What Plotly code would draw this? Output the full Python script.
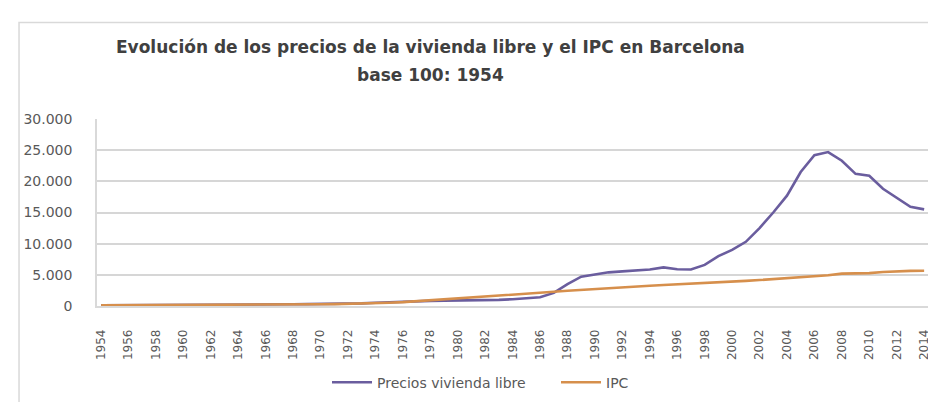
import plotly.graph_objects as go

years = [str(y) for y in range(1954, 2015)]
tick_labels = [str(y) for y in range(1954, 2015, 2)]

precios = [100, 105, 110, 120, 130, 140, 150, 160, 175, 190,
           210, 230, 250, 265, 280, 295, 310, 330, 360, 420,
           520, 620, 700, 760, 820, 870, 910, 940, 880, 990,
           1090, 1250, 1400, 2100, 3500, 4700, 5100, 5400, 5550, 5700,
           5850, 6200, 5900, 5850, 6600, 8000, 9000, 10300, 12500, 15000,
           17700, 21500, 24200, 24700, 23300, 21200, 20900, 18800, 17300, 15900,
           15500]

ipc = [100, 105, 115, 125, 140, 150, 152, 155, 165, 180,
       195, 215, 230, 245, 255, 265, 285, 305, 335, 380,
       450, 530, 620, 760, 900, 1050, 1200, 1350, 1500, 1650,
       1800, 1950, 2100, 2280, 2450, 2600, 2750, 2880, 3020, 3130,
       3250, 3380, 3480, 3560, 3650, 3760, 3890, 4030, 4170, 4300,
       4430, 4580, 4750, 4920, 5200, 5190, 5280, 5450, 5580, 5640,
       5650]

y_ticks = [0, 5000, 10000, 15000, 20000, 25000, 30000]

FONT = "DejaVu Sans"

fig = go.Figure()
fig.add_trace(go.Scatter(x=years, y=precios, mode="lines", name="Precios vivienda libre",
                         line=dict(color="#6a5d9e", width=2.6)))
fig.add_trace(go.Scatter(x=years, y=ipc, mode="lines", name="IPC",
                         line=dict(color="#d68f4c", width=2.6)))

fig.update_layout(
    width=936, height=402,
    margin=dict(l=89, r=13, t=111, b=99),
    paper_bgcolor="white", plot_bgcolor="white",
    separators=",.",
    font=dict(family=FONT, size=12, color="#595959"),
    showlegend=True,
    legend=dict(orientation="h", x=(319 - 89) / 834, xanchor="left", y=-0.41, yanchor="middle",
                font=dict(family=FONT, size=14, color="#595959"),
                itemwidth=40, entrywidth=174, tracegroupgap=0),
    xaxis=dict(type="category", range=[-0.3, 60.5], tickvals=tick_labels, ticktext=tick_labels,
               tickangle=-90, showgrid=False, showline=True, linecolor="#d9d9d9", linewidth=1.5,
               ticks="outside", ticklen=17, tickcolor="rgba(0,0,0,0)",
               tickfont=dict(family=FONT, size=12, color="#595959"), zeroline=False),
    yaxis=dict(range=[0, 30000], tickvals=y_ticks, tickformat=",d", showgrid=True,
               gridcolor="#d6d6d6", gridwidth=1.6, showline=True, linecolor="#d9d9d9",
               linewidth=1.5, zeroline=False, ticks="outside", ticklen=20,
               tickcolor="rgba(0,0,0,0)",
               tickfont=dict(family=FONT, size=14, color="#595959")),
    shapes=[dict(type="rect", xref="paper", yref="paper",
                 x0=-0.0935, x1=1.3, y0=-0.7, y1=1.5156,
                 line=dict(color="#d9d9d9", width=1.5), fillcolor="rgba(0,0,0,0)", layer="below")],
    annotations=[
        dict(text="<b>Evolución de los precios de la vivienda libre y el IPC en Barcelona</b>",
             xref="paper", yref="paper", x=(422 - 89) / 834, y=(303 - 37) / 192,
             xanchor="center", yanchor="middle", showarrow=False,
             font=dict(family=FONT, size=17, color="#404040")),
        dict(text="<b>base 100: 1954</b>",
             xref="paper", yref="paper", x=(422 - 89) / 834, y=(303 - 66) / 192,
             xanchor="center", yanchor="middle", showarrow=False,
             font=dict(family=FONT, size=17, color="#404040")),
    ],
)

fig.write_html("out.html")
